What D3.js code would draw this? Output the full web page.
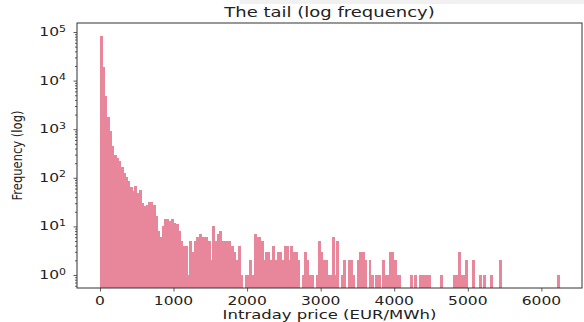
<!DOCTYPE html>
<html>
<head>
<meta charset="utf-8">
<script src="https://cdn.jsdelivr.net/npm/d3@7"></script>
<style>
  body { margin: 0; background: #fff; }
  text { font-family: "DejaVu Sans", sans-serif; fill: #222; }
</style>
</head>
<body>
<script>
// histogram of intraday prices, 200 bins from 0 to 6240 EUR/MWh
var binStart = 0
var binEnd = 6240
var counts = [
  83000, 19400, 4800, 1750, 900, 450, 300, 250, 225, 170,
  125, 105, 87, 66, 54, 68, 48, 56, 30, 26,
  28, 32, 32, 28, 16, 8, 6, 10, 14, 14,
  13, 14, 12, 11, 8, 5, 4, 4, 1, 5,
  3, 5, 6, 7, 6, 6, 6, 5, 2, 10,
  5, 7, 8, 5, 5, 5, 5, 4, 3, 2,
  4, 1, 0, 1, 1, 2, 1, 7, 6, 6,
  5, 2, 3, 3, 2, 4, 2, 3, 3, 2,
  4, 4, 2, 4, 3, 3, 2, 0, 1, 3,
  2, 1, 1, 0, 1, 5, 3, 2, 2, 1,
  1, 6, 1, 5, 0, 1, 2, 0, 2, 2,
  1, 0, 2, 3, 3, 2, 0, 2, 1, 0,
  1, 1, 0, 2, 1, 1, 3, 3, 2, 1,
  1, 0, 0, 0, 0, 1, 0, 1, 0, 1,
  1, 1, 1, 1, 0, 0, 0, 0, 1, 0,
  0, 0, 0, 0, 1, 1, 3, 1, 1, 2,
  0, 0, 2, 0, 0, 1, 0, 1, 0, 0,
  1, 0, 0, 0, 2, 0, 0, 0, 0, 0,
  0, 0, 0, 0, 0, 0, 0, 0, 0, 0,
  0, 0, 0, 0, 0, 0, 0, 0, 0, 1
]
var xTicks = [0, 1000, 2000, 3000, 4000, 5000, 6000]
var yTickExp = [0, 1, 2, 3, 4, 5]

var W = 584, H = 322
var pL = 77, pR = 582, pT = 23, pB = 288
var sy = 0.74   // the picture is squashed vertically

var svg = d3.select("body").append("svg")
  .attr("width", W)
  .attr("height", H)

svg.append("rect").attr("x", 240).attr("y", 0).attr("width", 344).attr("height", 4).attr("fill", "#f1f1f1")

var binW = (binEnd - binStart) / counts.length
var bins = counts.map((c, i) => ({x0: binStart + i * binW, x1: binStart + (i + 1) * binW, c: c}))

var x = d3.scaleLinear().domain([-312, 6552]).range([pL, pR])
var y = d3.scaleLog().domain([Math.pow(10, -0.2675), Math.pow(10, 5.185)]).range([pB, pT])

svg.append("g").attr("shape-rendering", "crispEdges").selectAll("rect")
  .data(bins.filter(d => d.c > 0))
  .join("rect")
  .attr("x", d => x(d.x0))
  .attr("width", d => x(d.x1) - x(d.x0) + 0.6)
  .attr("y", d => y(d.c))
  .attr("height", d => pB - y(d.c))
  .attr("fill", "#e8869b")

// axes
svg.append("g").attr("transform", "translate(0," + pB + ")")
  .call(d3.axisBottom(x).tickValues(xTicks).tickSize(3.5).tickFormat(""))
svg.append("g").attr("transform", "translate(" + pL + ",0)")
  .call(d3.axisLeft(y).tickValues(yTickExp.map(e => Math.pow(10, e))).tickSize(3.5).tickFormat(""))
var minor = []
for (var e = -1; e <= 5; e++) for (var m = 2; m <= 9; m++) {
  var v = m * Math.pow(10, e)
  if (y(v) >= pT && y(v) <= pB) minor.push(v)
}
svg.append("g").attr("transform", "translate(" + pL + ",0)")
  .call(d3.axisLeft(y).tickValues(minor).tickSize(2).tickFormat(""))
svg.selectAll(".domain").remove()
svg.selectAll(".tick line").attr("stroke", "#333").attr("stroke-width", 0.8)

svg.append("rect")
  .attr("x", pL).attr("y", pT)
  .attr("width", pR - pL).attr("height", pB - pT)
  .attr("fill", "none").attr("stroke", "#333").attr("stroke-width", 1)

function label(tx, ty, str, size, anchor) {
  return svg.append("text")
    .attr("transform", "translate(" + tx + "," + ty + ") scale(1," + sy + ")")
    .attr("font-size", size)
    .attr("text-anchor", anchor)
    .text(str)
}

xTicks.forEach(t => label(x(t), 305, String(t), 15.5, "middle"))

yTickExp.forEach(e => {
  var t = label(66, y(Math.pow(10, e)) + 4, "", 15.5, "end")
  t.append("tspan").text("10")
  t.append("tspan").attr("dy", -6).attr("font-size", 11).text(e)
})

label((pL + pR) / 2, 17, "The tail (log frequency)", 18, "middle")
label((pL + pR) / 2, 319, "Intraday price (EUR/MWh)", 16.5, "middle")

svg.append("text")
  .attr("transform", "translate(22," + ((pT + pB) / 2) + ") rotate(-90)")
  .attr("text-anchor", "middle")
  .attr("font-family", "Liberation Sans Narrow, Liberation Sans, sans-serif")
  .attr("font-size", 14)
  .attr("textLength", 90)
  .attr("lengthAdjust", "spacingAndGlyphs")
  .text("Frequency (log)")
</script>
</body>
</html>
